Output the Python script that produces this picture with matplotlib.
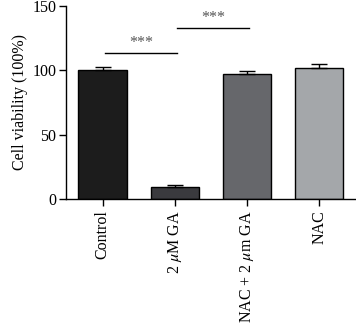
import matplotlib
matplotlib.use("Agg")
import matplotlib.pyplot as plt

categories = ["Control", "2 $\\mu$M GA", "NAC + 2 $\\mu$m GA", "NAC"]
values = [100.0, 9.6, 96.9, 102.1]
errors = [2.7, 1.0, 2.6, 2.6]
colors = ["#1c1c1c", "#3a3a3e", "#66676b", "#a4a7aa"]
# (left bar, right bar, line height)
sig_pairs = [(0, 1, 113.8), (1, 2, 132.7)]
sig_label = "***"

plt.rcParams["font.family"] = ["Liberation Serif", "DejaVu Serif"]
plt.rcParams["mathtext.fontset"] = "stix"

fig = plt.figure(figsize=(3.56, 3.24), dpi=100)
ax = fig.add_axes([66 / 356, 1 - 199 / 324, 290 / 356, 193 / 324])

x = list(range(len(categories)))
ax.bar(x, values, width=0.67, color=colors, edgecolor="black", linewidth=1.0, zorder=2)
ax.errorbar(x, values, yerr=[[0] * len(errors), errors], fmt="none",
            ecolor="black", elinewidth=1.0, capsize=6, capthick=1.0, zorder=3)

for i, j, h in sig_pairs:
    ax.plot([i + 0.03, j + 0.03], [h, h], color="black", lw=1.0)
    ax.text((i + j) / 2 + 0.03, h + 1.5, sig_label, ha="center", va="bottom",
            fontsize=11.5, color="#555555")

ax.set_xlim(-0.507, 3.51)
ax.set_ylim(0, 150)
ax.set_yticks([0, 50, 100, 150])
ax.set_xticks(x)
ax.set_xticklabels(categories, rotation=90, fontsize=11.5)
ax.tick_params(axis="y", labelsize=11.5, length=5, width=1, pad=2)
ax.tick_params(axis="x", length=5, width=1, pad=3)
ax.spines["top"].set_visible(False)
ax.spines["right"].set_visible(False)
ax.spines["left"].set_linewidth(1)
ax.spines["bottom"].set_linewidth(1)
ax.set_ylabel("Cell viability (100%)", fontsize=11.5, labelpad=3)

fig.savefig("out.png", dpi=100)
plt.close(fig)
